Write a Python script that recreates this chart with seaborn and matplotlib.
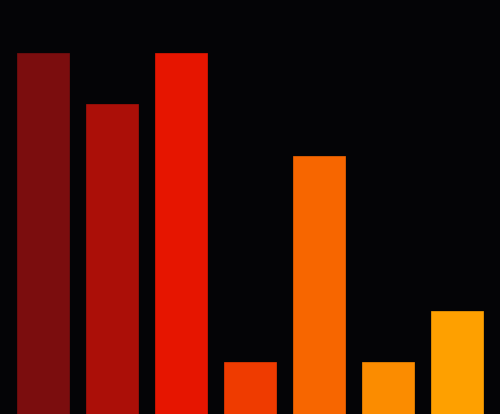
import matplotlib
matplotlib.use("Agg")
import matplotlib.pyplot as plt
import seaborn as sns
import pandas as pd

categories = ["A", "B", "C", "D", "E", "F", "G"]
values = [7, 6, 7, 1, 5, 1, 2]
colors = ["#7b0d0e", "#ab0f08", "#e61500", "#ef3b00", "#f76600", "#fb8c00", "#fea000"]

df = pd.DataFrame({"cat": categories, "val": values})

fig = plt.figure(figsize=(5.0, 4.1401), dpi=100)
fig.patch.set_facecolor("#040406")
ax = fig.add_axes([0, 0, 1, 1])
ax.set_facecolor("#040406")

sns.barplot(data=df, x="cat", y="val", hue="cat", palette=colors, legend=False,
            width=0.745, ax=ax, edgecolor=None, linewidth=0, saturation=1)
for p, c in zip(ax.patches, colors):
    p.set_edgecolor(c)
    p.set_linewidth(0.5)

ax.set_xlim(-0.623, 6.623)
ax.set_ylim(0, 8.02)
ax.set_axis_off()

fig.savefig("out.png", dpi=100, facecolor=fig.get_facecolor())
